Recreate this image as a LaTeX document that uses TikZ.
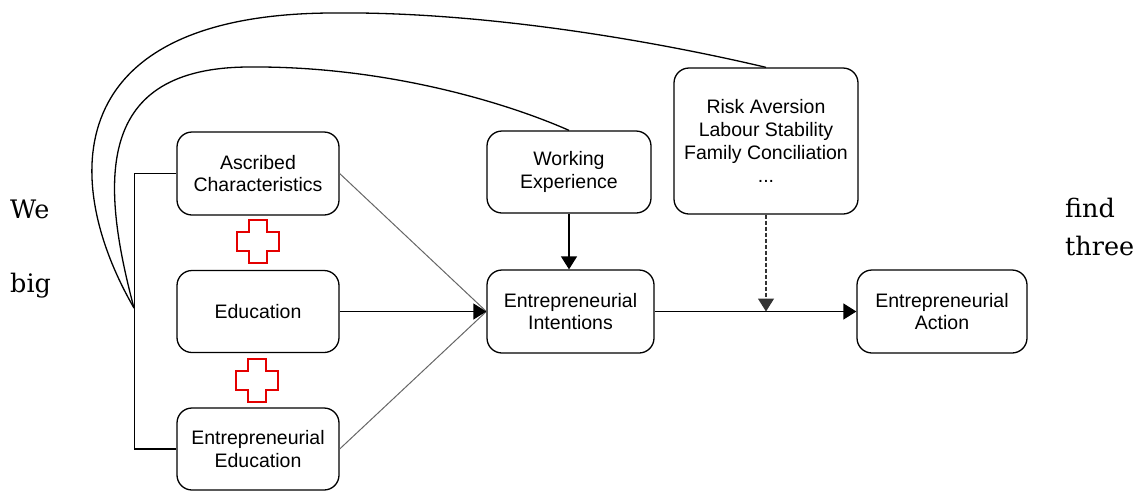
\documentclass[tikz,border=0pt]{standalone}
\usepackage{fontspec}
\setmainfont{DejaVu Serif}
\newfontfamily\boxfont{Liberation Sans}
\usetikzlibrary{arrows.meta}
\definecolor{crossred}{RGB}{228,0,0}
\tikzset{
  box/.style={draw, line width=1.3pt, rounded corners=15pt, align=center,
    font=\boxfont\fontsize{19.5}{22.8}\selectfont, inner sep=0pt},
  conn/.style={line width=1.3pt},
  thin/.style={line width=1pt, draw=black!60},
  tip/.style={-{Triangle[length=13pt,width=16pt]}},
  word/.style={font=\fontsize{25.5}{30}\selectfont, anchor=base west, inner sep=0pt},
  redcross/.style={draw=crossred, line width=2.3pt}
}
\begin{document}
\begin{tikzpicture}[x=1pt,y=-1pt]
\useasboundingbox (0,0) rectangle (1143,491);
% boxes
\node[box, minimum width=162pt, minimum height=83pt] (asc) at (258,173.5) {Ascribed\\Characteristics};
\node[box, minimum width=162pt, minimum height=82pt] (edu) at (258,311.5) {Education};
\node[box, minimum width=162pt, minimum height=82pt] (eedu) at (258,449) {Entrepreneurial\\Education};
\node[box, minimum width=164pt, minimum height=82pt] (work) at (569,172) {Working\\Experience};
\node[box, minimum width=167pt, minimum height=83pt] (int) at (570.5,311.5) {Entrepreneurial\\Intentions};
\node[box, minimum width=184pt, minimum height=146pt] (risk) at (766,141) {Risk Aversion\\Labour Stability\\Family Conciliation\\...};
\node[box, minimum width=170pt, minimum height=83pt] (act) at (942,311.5) {Entrepreneurial\\Action};
% side words
\node[word] (we) at (10,218) {We};
\node[word] (big) at (10,292) {big};
\node[word] (find) at (1065,217) {find};
\node[word] (three) at (1065,255) {three};
% red crosses
\draw[redcross] (249,220) -- (267,220) -- (267,232) -- (279,232) -- (279,251) -- (267,251) -- (267,263) -- (249,263) -- (249,251) -- (237,251) -- (237,232) -- (249,232) -- cycle;
\draw[redcross] (248,359) -- (266,359) -- (266,371) -- (278,371) -- (278,390) -- (266,390) -- (266,402) -- (248,402) -- (248,390) -- (236,390) -- (236,371) -- (248,371) -- cycle;
% bracket
\draw[conn] (asc.west) -- ++(-42,0) |- (eedu.west);
% curves
\coordinate (tipc) at (134,308);
\draw[conn] (tipc) .. controls (60,180) and (60,15) .. (330,13) .. controls (480,11) and (650,40) .. (risk.north);
\draw[conn] (tipc) .. controls (100,180) and (95,67) .. (250,67) .. controls (380,66) and (500,100) .. (work.north);
% connectors
\draw[thin] (asc.east) -- (int.west);
\draw[thin] (eedu.east) -- (int.west);
\draw[conn, tip] (edu.east) -- (int.west);
\draw[conn, tip] (work.south) -- (work.south |- int.north);
\draw[conn, tip] (int.east) -- (act.west);
\draw[line width=1.3pt, draw=black!80, dash pattern=on 4pt off 2pt, tip] (risk.south) -- (risk.south |- int.east);
\end{tikzpicture}
\end{document}
